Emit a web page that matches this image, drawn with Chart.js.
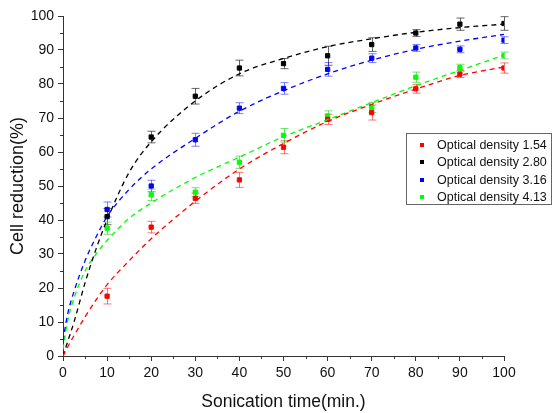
<!DOCTYPE html>
<html>
<head>
<meta charset="utf-8">
<script src="https://cdn.jsdelivr.net/npm/chart.js@4.4.1/dist/chart.umd.min.js"></script>
<style>
  body { margin: 0; background: #fff; }
  #wrap { width: 555px; height: 413px; }
</style>
</head>
<body>
<div id="wrap"><canvas id="myChart" width="555" height="413"></canvas></div>
<script>
// sonication times of the measured points (min.)
const times = [10, 20, 30, 40, 50, 60, 70, 80, 90, 100];

// measured cell reduction (%) and error bar half-heights
const od154 = [17.6, 37.9, 46.4, 51.8, 61.4, 69.6, 71.6, 78.6, 82.9, 84.7];
const od154Err = [2.3, 1.7, 1.5, 2.2, 1.9, 1.5, 2.2, 1.3, 1.0, 1.5];
const od280 = [41.0, 64.4, 76.4, 84.7, 86.0, 88.3, 91.6, 95.0, 97.6, 97.8];
const od280Err = [2.4, 1.7, 2.3, 2.3, 1.5, 2.8, 2.0, 1.0, 1.8, 2.0];
const od316 = [43.1, 50.0, 63.6, 72.9, 78.7, 84.3, 87.6, 90.6, 90.2, 92.9];
const od316Err = [2.2, 1.7, 1.9, 1.6, 1.7, 2.0, 1.3, 1.0, 1.0, 1.0];
const od413 = [37.6, 47.4, 48.2, 57.0, 64.9, 70.6, 73.1, 82.0, 84.8, 88.4];
const od413Err = [1.8, 1.7, 1.3, 1.8, 2.0, 1.5, 1.5, 1.5, 1.0, 1.0];

// fitted curves, sampled along the time axis
const fitTimes = [0, 1, 2.5, 5, 7.5, 10, 15, 20, 30, 40, 50, 60, 70, 80, 90, 100];
const fit154 = [0, 2.5, 6, 11.5, 16.5, 21, 28, 34.5, 45.5, 55, 62.5, 69, 74, 78.5, 82.5, 85];
const fit280 = [0, 4, 10, 21.5, 31.5, 40, 54, 63, 75, 83, 87.5, 91, 93.3, 95.2, 96.6, 97.6];
const fit316 = [4.5, 12, 19, 28, 35, 41, 49, 55, 64, 72, 78, 83, 87, 90.2, 92.6, 94.6];
const fit413 = [2, 10, 17, 25, 30, 34, 40.5, 45, 52.5, 58.5, 64.5, 69.5, 74.5, 79.5, 84, 88.5];

const seriesLabels = ['Optical density 1.54', 'Optical density 2.80', 'Optical density 3.16', 'Optical density 4.13'];
const xTicks = [0, 10, 20, 30, 40, 50, 60, 70, 80, 90, 100];
const yTicks = [0, 10, 20, 30, 40, 50, 60, 70, 80, 90, 100];

const colors = ['#ff0000', '#000000', '#0000ff', '#00ff00'];
const barColors = ['rgba(255,0,0,0.55)', 'rgba(0,0,0,0.6)', 'rgba(0,0,255,0.5)', 'rgba(0,200,0,0.55)'];
const FONT = "'Liberation Sans', Arial, sans-serif";

const values = [od154, od280, od316, od413];
const errors = [od154Err, od280Err, od316Err, od413Err];
const fits = [fit154, fit280, fit316, fit413];

let toXY = (xs, ys) => xs.map((x, i) => ({x: x, y: ys[i]}));

let datasets = [];
for (let s = 0; s < 4; s++) {
    datasets.push({
        label: seriesLabels[s] + ' fit',
        data: toXY(fitTimes, fits[s]),
        showLine: true,
        borderColor: colors[s],
        borderWidth: 1.3,
        borderDash: [5, 4],
        pointRadius: 0,
        cubicInterpolationMode: 'monotone',
        fill: false
    });
}
for (let s = 0; s < 4; s++) {
    datasets.push({
        label: seriesLabels[s],
        data: toXY(times, values[s]),
        showLine: false,
        pointStyle: 'rect',
        pointRadius: 3,
        borderWidth: 1,
        borderColor: colors[s],
        backgroundColor: colors[s],
        errs: errors[s],
        errColor: barColors[s]
    });
}

// error bars with caps, drawn under the square markers
const errorBars = {
    id: 'errorBars',
    beforeDatasetsDraw(chart) {
        const ctx = chart.ctx;
        const xs = chart.scales.x, ys = chart.scales.y;
        ctx.save();
        chart.data.datasets.forEach(ds => {
            if (!ds.errs) return;
            ctx.strokeStyle = ds.errColor;
            ctx.lineWidth = 1;
            ds.data.forEach((p, i) => {
                const px = Math.round(xs.getPixelForValue(p.x)) + 0.5;
                const top = ys.getPixelForValue(p.y + ds.errs[i]);
                const bot = ys.getPixelForValue(p.y - ds.errs[i]);
                ctx.beginPath();
                ctx.moveTo(px, top); ctx.lineTo(px, bot);
                ctx.moveTo(px - 4, top); ctx.lineTo(px + 4, top);
                ctx.moveTo(px - 4, bot); ctx.lineTo(px + 4, bot);
                ctx.stroke();
            });
        });
        ctx.restore();
    }
};

// minor ticks half way between the labelled ones
const minorTicks = {
    id: 'minorTicks',
    afterDraw(chart) {
        const ctx = chart.ctx;
        const xs = chart.scales.x, ys = chart.scales.y;
        const area = chart.chartArea;
        ctx.save();
        ctx.strokeStyle = '#333';
        ctx.lineWidth = 1;
        ctx.beginPath();
        for (let v = 5; v < 100; v += 10) {
            const px = Math.round(xs.getPixelForValue(v)) + 0.5;
            ctx.moveTo(px, area.bottom); ctx.lineTo(px, area.bottom + 3);
            const py = Math.round(ys.getPixelForValue(v)) + 0.5;
            ctx.moveTo(area.left, py); ctx.lineTo(area.left - 3, py);
        }
        ctx.stroke();
        ctx.restore();
    }
};

// boxed legend sitting over the right side of the plot
const boxLegend = {
    id: 'boxLegend',
    afterDraw(chart) {
        const ctx = chart.ctx;
        ctx.save();
        ctx.fillStyle = '#fff';
        ctx.fillRect(406, 133, 145, 71);
        ctx.strokeStyle = '#666';
        ctx.lineWidth = 1;
        ctx.strokeRect(406.5, 133.5, 145, 71);
        ctx.font = '12.5px ' + FONT;
        ctx.textBaseline = 'middle';
        for (let s = 0; s < 4; s++) {
            const y = 145 + s * 17.4;
            ctx.fillStyle = colors[s];
            ctx.fillRect(420, Math.round(y) - 2, 4, 4);
            ctx.fillStyle = '#111';
            ctx.fillText(seriesLabels[s], 437, y + 0.5);
        }
        ctx.restore();
    }
};

var config = {
    type: 'scatter',
    data: { datasets: datasets },
    options: {
        responsive: false,
        animation: false,
        layout: { padding: { top: 16, right: 51, bottom: 0, left: 0 } },
        plugins: {
            legend: { display: false },
            tooltip: { enabled: false }
        },
        scales: {
            x: {
                type: 'linear',
                min: 0,
                max: 100,
                afterBuildTicks: scale => { scale.ticks = xTicks.map(v => ({value: v})); },
                afterFit: scale => { scale.height = 57; },
                grid: { drawOnChartArea: false, tickLength: 5, color: '#333' },
                border: { display: true, color: '#333', width: 1 },
                ticks: { color: '#111', padding: 4, font: { family: FONT, size: 14 }, maxRotation: 0 },
                title: {
                    display: true,
                    text: 'Sonication time(min.)',
                    color: '#111',
                    font: { family: FONT, size: 17.5 },
                    padding: { top: 0, bottom: 0 }
                }
            },
            y: {
                min: 0,
                max: 100,
                afterBuildTicks: scale => { scale.ticks = yTicks.map(v => ({value: v})); },
                afterFit: scale => { scale.width = 63; },
                grid: { drawOnChartArea: false, tickLength: 5, color: '#333' },
                border: { display: true, color: '#333', width: 1 },
                ticks: { color: '#111', padding: 4, font: { family: FONT, size: 14 } },
                title: {
                    display: true,
                    text: 'Cell reduction(%)',
                    color: '#111',
                    font: { family: FONT, size: 18 },
                    padding: { top: 7, bottom: 0 }
                }
            }
        }
    },
    plugins: [errorBars, minorTicks, boxLegend]
};

var myChart = new Chart(document.getElementById('myChart'), config);
</script>
</body>
</html>
